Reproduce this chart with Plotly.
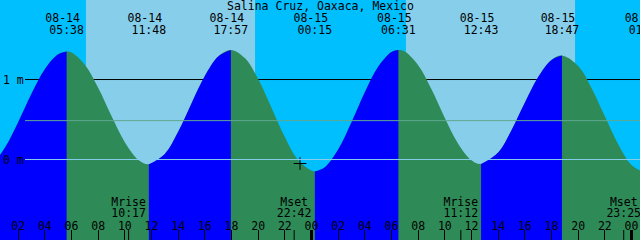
import plotly.graph_objects as go

TITLE = "Salina Cruz, Oaxaca, Mexico"

# Water level readings: hours since 08-14 00:00 and height in metres
curve_hours = [-0.8, 0, 1, 2, 3, 4, 5, 5.633, 6, 7, 8, 9, 10, 11, 11.8,
               13, 14, 15, 16, 17, 17.95, 19, 20, 21, 22, 23, 24.25,
               25, 26, 27, 28, 29, 30, 30.517, 31, 32, 33, 34, 35, 36, 36.717,
               38, 39, 40, 41, 42, 42.783, 44, 45, 46, 47, 48, 49.08]
curve_levels = [-0.12, -0.065, 0.146, 0.467, 0.822, 1.129, 1.315, 1.35,
                1.338, 1.186, 0.897, 0.543, 0.216, -0.002, -0.06,
                0.070, 0.346, 0.701, 1.043, 1.288, 1.37,
                1.268, 1.006, 0.648, 0.280, -0.007, -0.15,
                -0.097, 0.124, 0.465, 0.841, 1.160, 1.345, 1.37,
                1.349, 1.178, 0.877, 0.520, 0.198, -0.009, -0.055,
                0.089, 0.367, 0.710, 1.031, 1.245, 1.30,
                1.169, 0.894, 0.540, 0.192, -0.067, -0.17]

# Rising tide intervals (low -> high), hours
rise_starts = [-0.8, 11.8, 24.25, 36.717]
rise_ends = [5.633, 17.95, 30.517, 42.783]

# High / low tide labels
event_hours = [5.633, 11.8, 17.95, 24.25, 30.517, 36.717, 42.783, 49.083]
event_dates = ["08-14", "08-14", "08-14", "08-15", "08-15", "08-15", "08-15", "08-16"]
event_times = ["05:38", "11:48", "17:57", "00:15", "06:31", "12:43", "18:47", "01:05"]

# Sun (daylight intervals) in hours
sunrise_hours = [7.083, 31.083]
sunset_hours = [19.767, 43.767]

# Moon events
moon_hours = [10.283, 22.7, 35.2, 47.417]
moon_names = ["Mrise", "Mset", "Mrise", "Mset"]
moon_times = ["10:17", "22:42", "11:12", "23:25"]

# Hour axis ticks
hour_ticks = [2, 4, 6, 8, 10, 12, 14, 16, 18, 20, 22, 24,
              26, 28, 30, 32, 34, 36, 38, 40, 42, 44, 46, 48]
hour_labels = ["02", "04", "06", "08", "10", "12", "14", "16", "18", "20", "22", "00",
               "02", "04", "06", "08", "10", "12", "14", "16", "18", "20", "22", "00"]
midnight_hours = [24, 48]

# Datum lines
mark_levels = [0, 1]
mark_labels = ["0 m", "1 m"]
mean_level = 0.486

# "now" marker
now_hour = 23.14
now_level = -0.05

# ---------- styling ----------
W, H = 640, 240
NIGHT = "#00BFFF"
DAY = "#87CEEB"
RISE = "#0000FF"
FALL = "#2E8B57"
FONT = "DejaVu Sans Mono"
FS = 11.5
X_RANGE = [0.6375, 48.6375]
Y_RANGE = [-1.006, 1.994]
BASE = -1.2


def py(px):
    """pixel row -> data y (for text placement)"""
    return Y_RANGE[1] - px * (Y_RANGE[1] - Y_RANGE[0]) / H


fig = go.Figure()

# full curve, falling colour
fig.add_trace(go.Scatter(x=[curve_hours[0], curve_hours[-1]], y=[BASE, BASE],
                         mode="lines", line=dict(width=0), hoverinfo="skip", showlegend=False))
fig.add_trace(go.Scatter(x=curve_hours, y=curve_levels, mode="lines",
                         line=dict(width=0, shape="spline"), fill="tonexty",
                         fillcolor=FALL, hoverinfo="skip", showlegend=False))

# rising segments
for a, b in zip(rise_starts, rise_ends):
    xs = [h for h in curve_hours if a - 1e-9 <= h <= b + 1e-9]
    ys = [v for h, v in zip(curve_hours, curve_levels) if a - 1e-9 <= h <= b + 1e-9]
    fig.add_trace(go.Scatter(x=[xs[0], xs[-1]], y=[BASE, BASE], mode="lines",
                             line=dict(width=0), hoverinfo="skip", showlegend=False))
    fig.add_trace(go.Scatter(x=xs, y=ys, mode="lines",
                             line=dict(width=0, shape="spline"), fill="tonexty",
                             fillcolor=RISE, hoverinfo="skip", showlegend=False))

shapes = []
for a, b in zip(sunrise_hours, sunset_hours):
    shapes.append(dict(type="rect", xref="x", yref="paper", x0=a, x1=b, y0=0, y1=1,
                       fillcolor=DAY, line=dict(width=0), layer="below"))
# 1 m line behind the water
shapes.append(dict(type="line", xref="paper", yref="y", x0=25 / W, x1=1, y0=1, y1=1,
                   line=dict(color="black", width=1), layer="below"))
# mean level and 0 m line above
shapes.append(dict(type="line", xref="paper", yref="y", x0=25 / W, x1=1,
                   y0=mean_level, y1=mean_level, line=dict(color="#5FA98F", width=1)))
shapes.append(dict(type="line", xref="paper", yref="y", x0=25 / W, x1=1, y0=0, y1=0,
                   line=dict(color=DAY, width=1)))
# midnight thick ticks and moon ticks
for m in midnight_hours:
    shapes.append(dict(type="line", xref="x", yref="paper", x0=m, x1=m, y0=0, y1=10 / H,
                       line=dict(color="black", width=3)))
for m in moon_hours:
    shapes.append(dict(type="line", xref="x", yref="paper", x0=m, x1=m, y0=0, y1=10 / H,
                       line=dict(color="black", width=1)))

txtfont = dict(family=FONT, size=FS, color="black")
date_shift = 4 * (X_RANGE[1] - X_RANGE[0]) / W

# tide event labels
fig.add_trace(go.Scatter(x=[h - date_shift for h in event_hours], y=[py(19)] * len(event_hours),
                         mode="text", text=event_dates, textposition="middle center",
                         textfont=txtfont, hoverinfo="skip", showlegend=False))
fig.add_trace(go.Scatter(x=event_hours, y=[py(31)] * len(event_hours),
                         mode="text", text=event_times, textposition="middle center",
                         textfont=txtfont, hoverinfo="skip", showlegend=False))
# moon labels
fig.add_trace(go.Scatter(x=moon_hours, y=[py(203)] * len(moon_hours),
                         mode="text", text=moon_names, textposition="middle center",
                         textfont=txtfont, hoverinfo="skip", showlegend=False))
fig.add_trace(go.Scatter(x=moon_hours, y=[py(214.5)] * len(moon_hours),
                         mode="text", text=moon_times, textposition="middle center",
                         textfont=txtfont, hoverinfo="skip", showlegend=False))
# now marker
fig.add_trace(go.Scatter(x=[now_hour], y=[now_level], mode="markers",
                         marker=dict(symbol="cross-thin", size=9,
                                     line=dict(color="black", width=1)),
                         hoverinfo="skip", showlegend=False))

annotations = [dict(text=TITLE, xref="paper", yref="paper", x=0.5, y=1 - 6 / H,
                    xanchor="center", yanchor="middle", showarrow=False, font=txtfont)]
for lv, lb in zip(mark_levels, mark_labels):
    annotations.append(dict(text=lb, xref="paper", yref="y", x=1 / W, y=lv,
                            xanchor="left", yanchor="middle", showarrow=False,
                            font=txtfont))

fig.update_layout(
    width=W, height=H, margin=dict(l=0, r=0, t=0, b=0),
    paper_bgcolor=NIGHT, plot_bgcolor=NIGHT,
    shapes=shapes,
    font=dict(family=FONT, size=FS, color="black"),
    annotations=annotations,
    xaxis=dict(range=X_RANGE, showgrid=False, zeroline=False, showline=False,
               tickmode="array", tickvals=hour_ticks, ticktext=hour_labels,
               ticks="inside", ticklen=10, tickwidth=1, tickcolor="black",
               ticklabelposition="inside", ticklabelstandoff=-3,
               tickfont=txtfont, fixedrange=True),
    yaxis=dict(range=Y_RANGE, showgrid=False, zeroline=False, showline=False,
               showticklabels=False, ticks="", fixedrange=True),
)

fig.write_html("out.html", config={"displayModeBar": False})
